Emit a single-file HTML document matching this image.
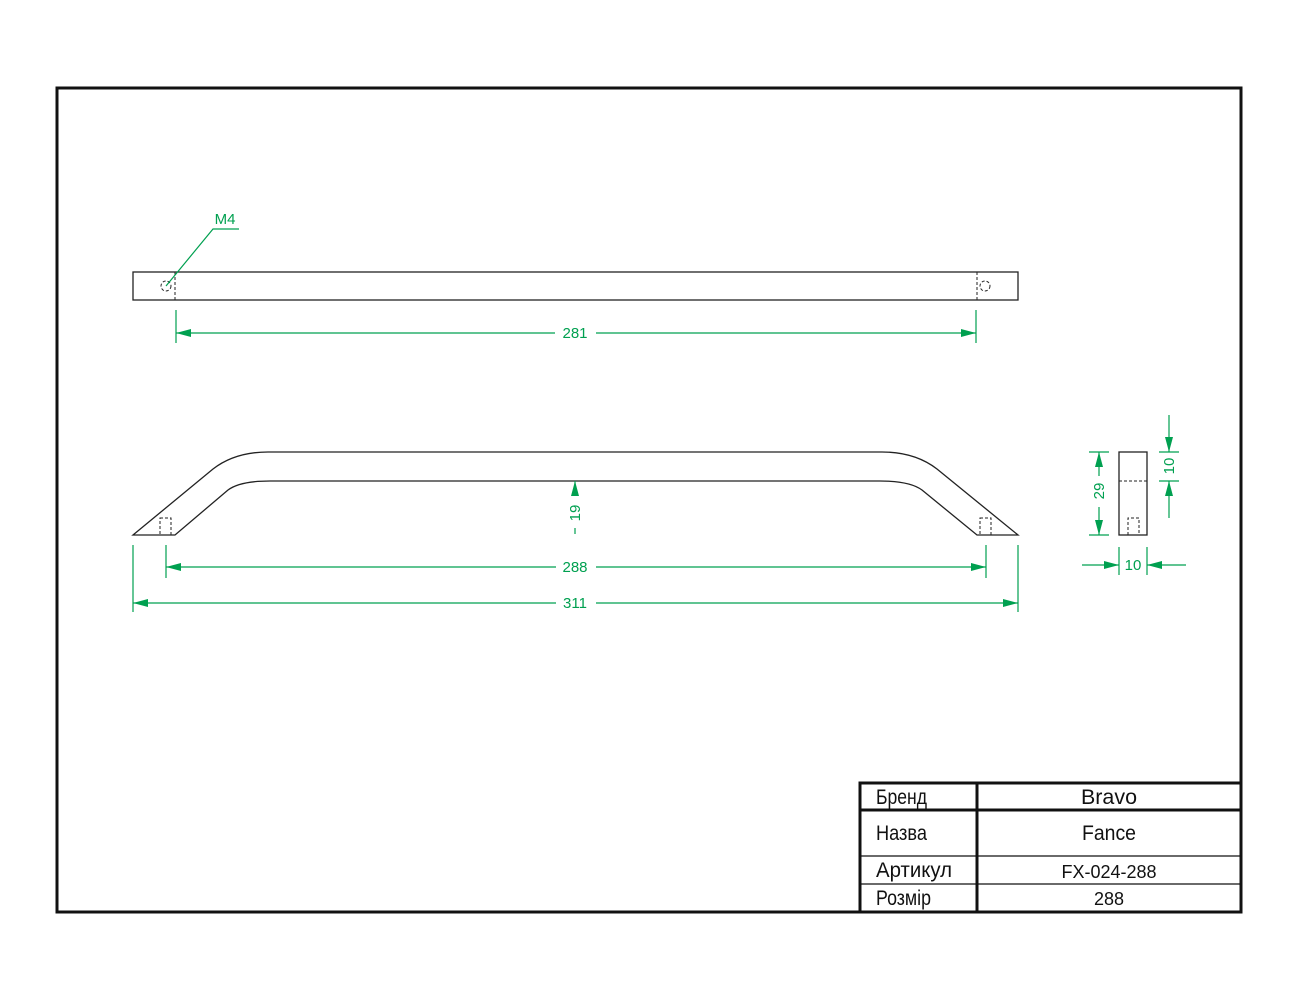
<!DOCTYPE html>
<html><head><meta charset="utf-8"><style>
html,body{margin:0;padding:0;background:#fff;}
svg{display:block}
text{font-family:"Liberation Sans Narrow","Liberation Sans",sans-serif;}
</style></head><body>
<svg width="1300" height="1000" viewBox="0 0 1300 1000" xmlns="http://www.w3.org/2000/svg">
<defs>
<marker id="a" viewBox="0 0 10 6" refX="10" refY="3" markerWidth="15" markerHeight="8" markerUnits="userSpaceOnUse" orient="auto-start-reverse" preserveAspectRatio="none"><path d="M0,0L10,3L0,6z" fill="#00a050"/></marker>
</defs>
<rect x="0" y="0" width="1300" height="1000" fill="#fff"/>
<rect x="57" y="88" width="1184" height="824" fill="none" stroke="#111" stroke-width="3"/>
<rect x="133" y="272" width="885" height="28" fill="none" stroke="#222" stroke-width="1.3"/>
<g stroke="#222" stroke-width="1" fill="none" stroke-dasharray="3,2">
<circle cx="166" cy="286" r="5"/><circle cx="985" cy="286" r="5"/>
<line x1="175" y1="272" x2="175" y2="300"/><line x1="977" y1="272" x2="977" y2="300"/>
</g>
<g stroke="#00a050" stroke-width="1.2" fill="none">
<polyline points="166,286 213,229 239,229"/>
<line x1="176" y1="310" x2="176" y2="343"/><line x1="976" y1="310" x2="976" y2="343"/>
<line x1="176" y1="333" x2="555" y2="333" marker-start="url(#a)"/>
<line x1="596" y1="333" x2="976" y2="333" marker-end="url(#a)"/>
</g>
<g fill="#00a050" font-size="15" text-anchor="middle">
<text x="225" y="224">M4</text>
<text x="575" y="338">281</text>
</g>
<g stroke="#222" stroke-width="1.3" fill="none">
<path d="M133,535 L213,469 Q235,452 268,452 L882,452 Q915,452 937,469 L1018,535 L977,535 L922,490 Q910,481 880,481 L270,481 Q240,481 228,490 L175,535 Z"/>
</g>
<g stroke="#222" stroke-width="1" fill="none" stroke-dasharray="3,2">
<rect x="160" y="518" width="11" height="17"/><rect x="980" y="518" width="11" height="17"/>
</g>
<g stroke="#00a050" stroke-width="1.2" fill="none">
<line x1="133" y1="545" x2="133" y2="612"/><line x1="1018" y1="545" x2="1018" y2="612"/>
<line x1="166" y1="545" x2="166" y2="578"/><line x1="986" y1="545" x2="986" y2="578"/>
<line x1="166" y1="567" x2="556" y2="567" marker-start="url(#a)"/>
<line x1="596" y1="567" x2="986" y2="567" marker-end="url(#a)"/>
<line x1="133" y1="603" x2="556" y2="603" marker-start="url(#a)"/>
<line x1="596" y1="603" x2="1018" y2="603" marker-end="url(#a)"/>
<line x1="575" y1="496" x2="575" y2="481" marker-end="url(#a)"/>
<line x1="575" y1="528" x2="575" y2="534"/>
</g>
<g fill="#00a050" font-size="15" text-anchor="middle">
<text x="575" y="572">288</text>
<text x="575" y="608">311</text>
<text transform="translate(580,513) rotate(-90)">19</text>
</g>
<rect x="1119" y="452" width="28" height="83" fill="none" stroke="#222" stroke-width="1.3"/>
<g stroke="#222" stroke-width="1" fill="none" stroke-dasharray="3,2">
<line x1="1119" y1="481" x2="1147" y2="481"/>
<polyline points="1128,535 1128,518 1139,518 1139,535"/>
</g>
<g stroke="#00a050" stroke-width="1.2" fill="none">
<line x1="1089" y1="452" x2="1109" y2="452"/><line x1="1089" y1="535" x2="1109" y2="535"/>
<line x1="1099" y1="476" x2="1099" y2="452" marker-end="url(#a)"/>
<line x1="1099" y1="507" x2="1099" y2="535" marker-end="url(#a)"/>
<line x1="1159" y1="452" x2="1179" y2="452"/><line x1="1159" y1="481" x2="1179" y2="481"/>
<line x1="1169" y1="415" x2="1169" y2="452" marker-end="url(#a)"/>
<line x1="1169" y1="518" x2="1169" y2="481" marker-end="url(#a)"/>
<line x1="1119" y1="547" x2="1119" y2="575"/><line x1="1147" y1="547" x2="1147" y2="575"/>
<line x1="1082" y1="565" x2="1119" y2="565" marker-end="url(#a)"/>
<line x1="1186" y1="565" x2="1147" y2="565" marker-end="url(#a)"/>
</g>
<g fill="#00a050" font-size="15" text-anchor="middle">
<text transform="translate(1104,491) rotate(-90)">29</text>
<text transform="translate(1174,466) rotate(-90)">10</text>
<text x="1133" y="570">10</text>
</g>
<g stroke="#111" fill="none">
<rect x="860" y="783" width="381" height="129" stroke-width="3"/>
<line x1="977" y1="783" x2="977" y2="912" stroke-width="3"/>
<line x1="860" y1="810" x2="1241" y2="810" stroke-width="3"/>
<line x1="860" y1="856" x2="1241" y2="856" stroke-width="1.3"/>
<line x1="860" y1="884" x2="1241" y2="884" stroke-width="1.3"/>
</g>
<g fill="#111" font-size="21">
<text x="876" y="804" textLength="51" lengthAdjust="spacingAndGlyphs">Бренд</text>
<text x="876" y="840" textLength="51" lengthAdjust="spacingAndGlyphs">Назва</text>
<text x="876" y="877" textLength="76" lengthAdjust="spacingAndGlyphs">Артикул</text>
<text x="876" y="905" textLength="55" lengthAdjust="spacingAndGlyphs">Розмір</text>
</g>
<g fill="#111" text-anchor="middle">
<text x="1109" y="804" font-size="21" textLength="56" lengthAdjust="spacingAndGlyphs">Bravo</text>
<text x="1109" y="840" font-size="21" textLength="54" lengthAdjust="spacingAndGlyphs">Fance</text>
<text x="1109" y="878" font-size="18">FX-024-288</text>
<text x="1109" y="905" font-size="18">288</text>
</g>
</svg>
</body></html>
